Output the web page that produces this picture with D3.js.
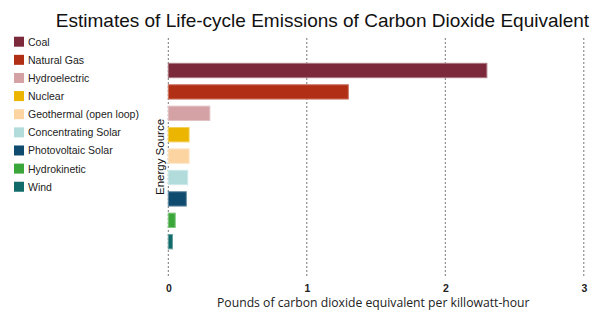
<!DOCTYPE html>
<html>
<head>
<meta charset="utf-8">
<script src="https://cdn.jsdelivr.net/npm/d3@7"></script>
<style>
  html, body { margin: 0; padding: 0; background: #fff; }
  svg { display: block; }
</style>
</head>
<body>
<svg id="chart" width="608" height="334"></svg>
<script>
const categories = ["Coal", "Natural Gas", "Hydroelectric", "Nuclear", "Geothermal (open loop)", "Concentrating Solar", "Photovoltaic Solar", "Hydrokinetic", "Wind"];
const values = [2.30, 1.30, 0.30, 0.15, 0.15, 0.14, 0.13, 0.05, 0.03];
const colors = ["#7c2a3b", "#b13015", "#d4a1a5", "#ebb500", "#fcd4a2", "#b2dcdb", "#0f4b6f", "#3ba63a", "#106b6a"];
const xTicks = [0, 1, 2, 3];
const titleText = "Estimates of Life-cycle Emissions of Carbon Dioxide Equivalent";
const xTitle = "Pounds of carbon dioxide equivalent per killowatt-hour";
const yTitle = "Energy Source";

const svg = d3.select("#chart");

const x = d3.scaleLinear().domain([0, 3]).range([168.3, 583.8]);
const y = d3.scaleBand().domain(categories).range([59.8, 252.4]).paddingInner(0.33).paddingOuter(0.165);

// title
svg.append("text")
  .attr("x", 322.5).attr("y", 26.5)
  .attr("text-anchor", "middle")
  .attr("font-family", "Liberation Sans, Arial, sans-serif")
  .attr("font-size", 19)
  .attr("fill", "#111")
  .text(titleText);

// gridlines
svg.append("g").selectAll("line").data(xTicks).join("line")
  .attr("x1", d => x(d)).attr("x2", d => x(d))
  .attr("y1", 38).attr("y2", 278)
  .attr("stroke", "#777")
  .attr("stroke-width", 1)
  .attr("stroke-dasharray", "2,2");

// x axis labels
const xAxis = d3.axisBottom(x).tickValues(xTicks).tickSize(0).tickFormat(d3.format("d"));
const gx = svg.append("g").attr("transform", "translate(0,282)").call(xAxis);
gx.select(".domain").remove();
gx.selectAll("text")
  .attr("font-family", "Liberation Sans, Arial, sans-serif")
  .attr("font-size", 10.5)
  .attr("font-weight", "bold")
  .attr("fill", "#222");

// x title
svg.append("text")
  .attr("x", 373.3).attr("y", 307)
  .attr("text-anchor", "middle")
  .attr("font-family", "Open Sans, sans-serif")
  .attr("font-size", 12.2)
  .attr("fill", "#222")
  .text(xTitle);

// y title
svg.append("text")
  .attr("transform", "translate(164,157) rotate(-90)")
  .attr("text-anchor", "middle")
  .attr("font-family", "Liberation Sans, Arial, sans-serif")
  .attr("font-size", 11.5)
  .attr("fill", "#111")
  .text(yTitle);

// bars
svg.append("g").selectAll("rect").data(categories).join("rect")
  .attr("x", x(0))
  .attr("y", d => y(d))
  .attr("width", (d, i) => x(values[i]) - x(0))
  .attr("height", y.bandwidth())
  .attr("fill", (d, i) => colors[i])
  .attr("stroke", (d, i) => d3.interpolateRgb(colors[i], "#fff")(0.35))
  .attr("stroke-width", 1);

// legend
const lg = svg.append("g").selectAll("g").data(categories).join("g")
  .attr("transform", (d, i) => `translate(14,${41.7 + i * 18.13})`);
lg.append("rect")
  .attr("x", 0).attr("y", -5).attr("width", 10).attr("height", 10)
  .attr("fill", (d, i) => colors[i]);
lg.append("text")
  .attr("x", 14).attr("y", 4)
  .attr("font-family", "Liberation Sans, Arial, sans-serif")
  .attr("font-size", 10.5)
  .attr("fill", "#222")
  .text(d => d);
</script>
</body>
</html>
